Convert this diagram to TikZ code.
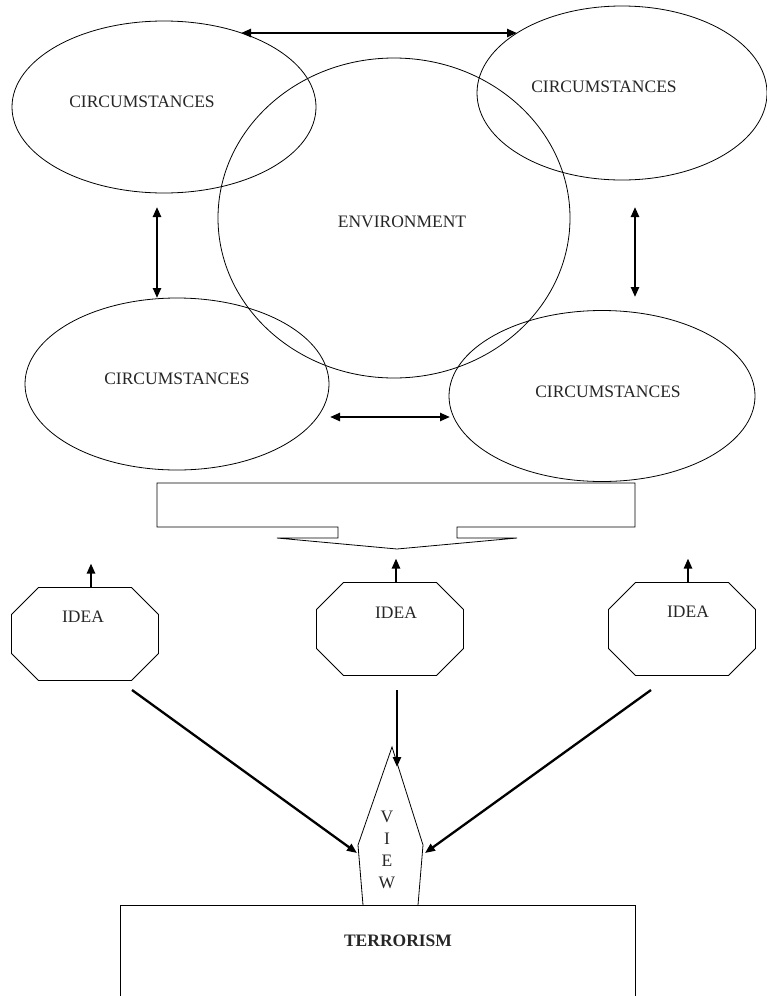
\documentclass[tikz,border=0pt]{standalone}
\usepackage{fontspec}
\setmainfont{Liberation Serif}
\usetikzlibrary{calc,positioning,shapes.geometric,arrows.meta}

\tikzset{
  blob/.style={ellipse, draw, line width=0.8pt, inner sep=0pt, outer sep=0pt},
  ideabox/.style={rectangle, minimum width=147pt, minimum height=93pt,
      inner sep=0pt, outer sep=0pt},
  lbl/.style={font=\fontsize{17.5}{20}\selectfont, text=black!85, inner sep=0pt},
  arr/.style={-{Triangle[length=10pt,width=8pt]}, line width=2.3pt},
  dblarr/.style={{Triangle[length=10pt,width=8pt]}-{Triangle[length=10pt,width=8pt]}, line width=2.3pt}
}
%% octagon cut from the box of a node
\newcommand{\ideaOct}[1]{%
  \draw[line width=0.8pt] ($(#1.north west)+(27,0)$) -- ($(#1.north east)+(-27,0)$)
     -- ($(#1.north east)+(0,27)$) -- ($(#1.south east)+(0,-27)$)
     -- ($(#1.south east)+(-27,0)$) -- ($(#1.south west)+(27,0)$)
     -- ($(#1.south west)+(0,-27)$) -- ($(#1.north west)+(0,27)$) -- cycle;}

\begin{document}
\begin{tikzpicture}[x=1pt,y=-1pt]
  \useasboundingbox (0,0) rectangle (767,996);
  \clip (0,0) rectangle (767,996);

  %% circumstances and environment
  \node[blob, minimum width=304pt, minimum height=172pt] (cTL) at (164,107) {};
  \node[blob, minimum width=290pt, minimum height=174pt] (cTR) at (622,93) {};
  \node[blob, minimum width=352pt, minimum height=320pt] (env) at (394,218) {};
  \node[blob, minimum width=304pt, minimum height=172pt] (cBL) at (177,384) {};
  \node[blob, minimum width=306pt, minimum height=171pt] (cBR) at (602,396) {};

  \node[lbl] (tTL) at (142,102) {CIRCUMSTANCES};
  \node[lbl] (tTR) at (604,87) {CIRCUMSTANCES};
  \node[lbl] (tBL) at (177,379) {CIRCUMSTANCES};
  \node[lbl] (tBR) at (608,392) {CIRCUMSTANCES};
  \node[lbl] (tEnv) at (402,222) {ENVIRONMENT};

  %% arrows between the circumstances
  \coordinate (tA) at (241,33);
  \coordinate (tB) at (517,33);
  \coordinate (lA) at (157,207);
  \coordinate (lB) at (157,298);
  \coordinate (rA) at (635,207);
  \coordinate (rB) at (635,297);
  \coordinate (bA) at (330,417);
  \coordinate (bB) at (450,417);
  \foreach \s/\t in {tA/tB, lA/lB, rA/rB, bA/bB} {
    \draw[dblarr] (\s) -- (\t);
  }

  %% collecting bar
  \draw[line width=0.8pt] (157,483) -- (635,483) -- (635,527) -- (457,527)
      -- (457,538) -- (517,538) -- (397,549) -- (277,538) -- (338,538)
      -- (338,527) -- (157,527) -- cycle;

  %% ideas
  \node[ideabox] (idL) at (85,634) {};
  \node[ideabox] (idM) at (390,629) {};
  \node[ideabox] (idR) at (682,629) {};
  \foreach \x in {idL,idM,idR} {
    \ideaOct{\x}
    \draw[arr] ($(\x.north)+(6,0)$) -- ++(0,-24);
  }
  \node[lbl] (tIdL) at (83,617) {IDEA};
  \node[lbl] (tIdM) at (396,613) {IDEA};
  \node[lbl] (tIdR) at (688,612) {IDEA};

  %% view
  \coordinate (vBL) at (363,905);
  \coordinate (vSL) at (358,845);
  \coordinate (vTop) at (392,747);
  \coordinate (vSR) at (423,845);
  \coordinate (vBR) at (418,905);
  \draw[line width=0.8pt] (vBL) -- (vSL) -- (vTop) -- (vSR) -- (vBR);
  \node[lbl, font=\fontsize{17.5}{22}\selectfont, align=center] (tView) at (387,850) {V\\I\\E\\W};

  \coordinate (dL) at (132,690);
  \coordinate (dM) at (397,690);
  \coordinate (dR) at (651,690);
  \draw[arr] (dL) -- ($(vSL)+(-1,8)$);
  \draw[arr] (dM) -- (397,767);
  \draw[arr] (dR) -- ($(vSR)+(2,8)$);

  %% terrorism
  \draw[line width=0.8pt] (120,1010) -- (120,905) -- (635,905) -- (635,1010);
  \node[lbl, font=\fontsize{17.5}{20}\selectfont\bfseries] (tTerr) at (398,941) {TERRORISM};
\end{tikzpicture}
\end{document}
